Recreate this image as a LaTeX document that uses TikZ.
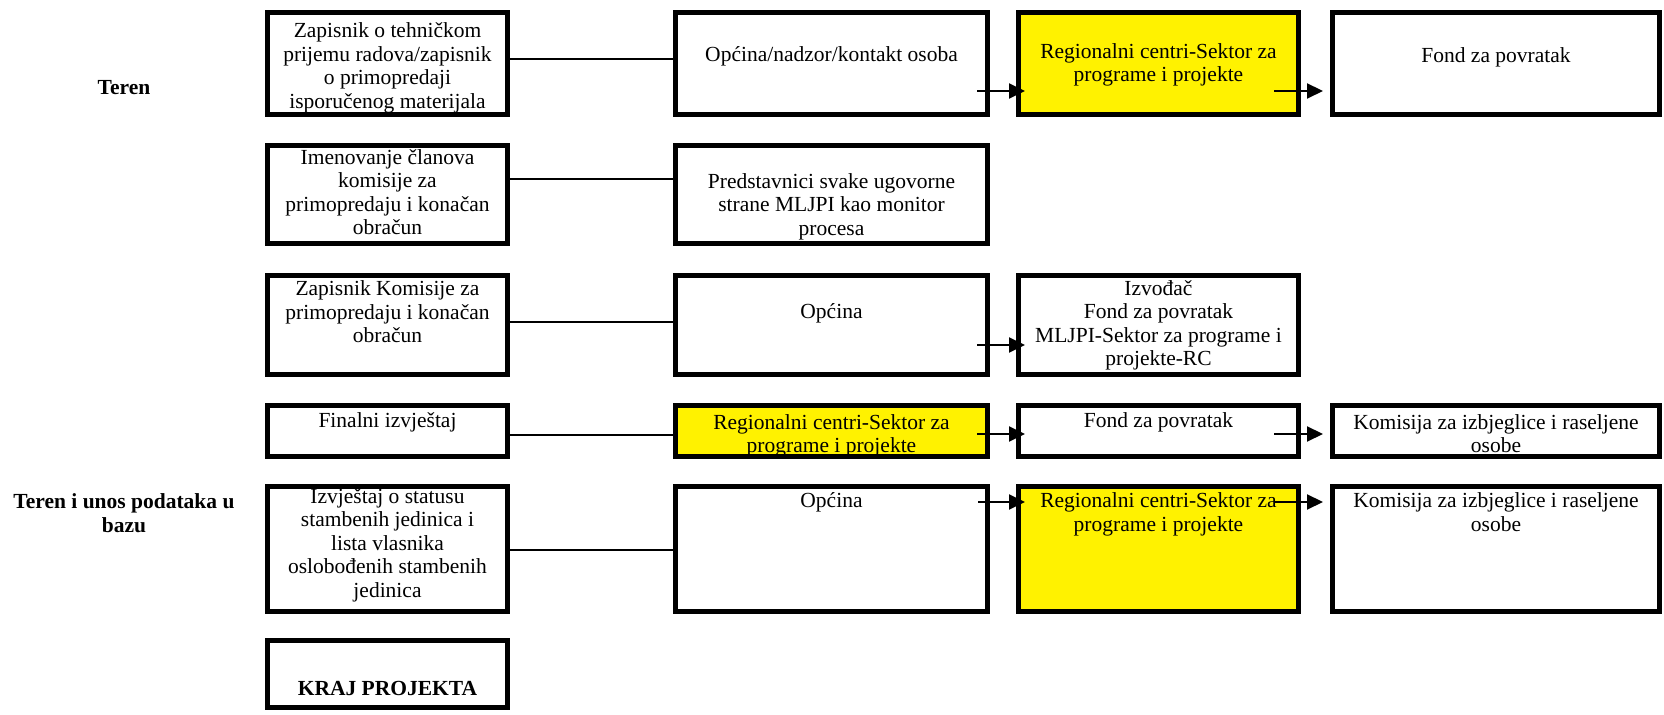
\documentclass[tikz,border=0pt]{standalone}
\usepackage{fontspec}
\setmainfont{Liberation Serif}
\usetikzlibrary{fit,calc,arrows.meta}

% framed box whose outer edge runs from (x1,y1) to (x2,y2)
\newcommand\mkbox[6]{%
  \node[box,#6,fit={(#2+2.5,#3+2.5) (#4-2.5,#5-2.5)}] (#1) {};}

\tikzset{
  box/.style={draw=black, line width=2.5pt, inner sep=0pt, fill=white},
  hl/.style={fill=yellow},
  plain/.style={},
  txt/.style={align=center, inner sep=0pt, anchor=north,
              font=\fontsize{10.75}{11.75}\selectfont},
  lbl/.style={txt, font=\fontsize{10.75}{11.75}\selectfont\bfseries},
  link/.style={line width=1pt},
  arr/.style={line width=1pt, -{Triangle[length=8pt,width=7.5pt]}},
}

\begin{document}
\begin{tikzpicture}[x=0.5pt,y=-0.5pt]
\useasboundingbox (0,0) rectangle (1664,715);

% row labels
\node[lbl] (lteren) at (124,78) {\strut Teren};
\node[lbl] (lbaza) at (124,492) {\strut Teren i unos podataka u\\bazu};

% boxes
\mkbox{r1c1}{265}{10}{510}{117}{plain}
\mkbox{r1c2}{673}{10}{990}{117}{plain}
\mkbox{r1c3}{1016}{10}{1301}{117}{hl}
\mkbox{r1c4}{1330}{10}{1662}{117}{plain}

\mkbox{r2c1}{265}{143}{510}{246}{plain}
\mkbox{r2c2}{673}{143}{990}{246}{plain}

\mkbox{r3c1}{265}{273}{510}{377}{plain}
\mkbox{r3c2}{673}{273}{990}{377}{plain}
\mkbox{r3c3}{1016}{273}{1301}{377}{plain}

\mkbox{r4c1}{265}{403}{510}{459}{plain}
\mkbox{r4c2}{673}{403}{990}{459}{hl}
\mkbox{r4c3}{1016}{403}{1301}{459}{plain}
\mkbox{r4c4}{1330}{403}{1662}{459}{plain}

\mkbox{r5c1}{265}{484}{510}{614}{plain}
\mkbox{r5c2}{673}{484}{990}{614}{plain}
\mkbox{r5c3}{1016}{484}{1301}{614}{hl}
\mkbox{r5c4}{1330}{484}{1662}{614}{plain}

\mkbox{r6c1}{265}{638}{510}{710}{plain}

% box texts
\node[txt] (t11) at (387.5,21) {\strut Zapisnik o tehničkom\\prijemu radova/zapisnik\\o primopredaji\\isporučenog materijala};
\node[txt] (t12) at (831.5,45) {\strut Općina/nadzor/kontakt osoba};
\node[txt] (t13) at (1158.5,41.5) {\strut Regionalni centri-Sektor za\\programe i projekte};
\node[txt] (t14) at (1496,45.5) {\strut Fond za povratak};

\node[txt] (t21) at (387.5,147.5) {\strut Imenovanje članova\\komisije za\\primopredaju i konačan\\obračun};
\node[txt] (t22) at (831.5,171.5) {\strut Predstavnici svake ugovorne\\strane MLJPI kao monitor\\procesa};

\node[txt] (t31) at (387.5,279) {\strut Zapisnik Komisije za\\primopredaju i konačan\\obračun};
\node[txt] (t32) at (831.5,302) {\strut Općina};
\node[txt] (t33) at (1158.5,278.5) {\strut Izvođač\\Fond za povratak\\MLJPI-Sektor za programe i\\projekte-RC};

\node[txt] (t41) at (387.5,411) {\strut Finalni izvještaj};
\node[txt] (t42) at (831.5,412.5) {\strut Regionalni centri-Sektor za\\programe i projekte};
\node[txt] (t43) at (1158.5,411) {\strut Fond za povratak};
\node[txt] (t44) at (1496,412.5) {\strut Komisija za izbjeglice i raseljene\\osobe};

\node[txt] (t51) at (387.5,486.5) {\strut Izvještaj o statusu\\stambenih jedinica i\\lista vlasnika\\oslobođenih stambenih\\jedinica};
\node[txt] (t52) at (831.5,491) {\strut Općina};
\node[txt] (t53) at (1158.5,491) {\strut Regionalni centri-Sektor za\\programe i projekte};
\node[txt] (t54) at (1496,491) {\strut Komisija za izbjeglice i raseljene\\osobe};

\node[lbl] (t61) at (387.5,679) {\strut KRAJ PROJEKTA};

% connector heights
\coordinate (y1) at (0,59);
\coordinate (y2) at (0,179);
\coordinate (y3) at (0,322);
\coordinate (y4) at (0,435);
\coordinate (y5) at (0,550);
\coordinate (a1) at (0,91);
\coordinate (a3) at (0,345);
\coordinate (a4) at (0,434);
\coordinate (a5) at (0,502);

% plain links between the first two columns
\draw[link] (r1c1.east |- y1) -- (r1c2.west |- y1);
\draw[link] (r2c1.east |- y2) -- (r2c2.west |- y2);
\draw[link] (r3c1.east |- y3) -- (r3c2.west |- y3);
\draw[link] (r4c1.east |- y4) -- (r4c2.west |- y4);
\draw[link] (r5c1.east |- y5) -- (r5c2.west |- y5);

% arrows
\draw[arr] ($(r1c2.east |- a1)+(-13,0)$) -- ($(r1c3.west |- a1)+(9,0)$);
\draw[arr] ($(r1c3.east |- a1)+(-27,0)$) -- ($(r1c4.west |- a1)+(-7,0)$);
\draw[arr] ($(r3c2.east |- a3)+(-13,0)$) -- ($(r3c3.west |- a3)+(9,0)$);
\draw[arr] ($(r4c2.east |- a4)+(-13,0)$) -- ($(r4c3.west |- a4)+(9,0)$);
\draw[arr] ($(r4c3.east |- a4)+(-27,0)$) -- ($(r4c4.west |- a4)+(-7,0)$);
\draw[arr] ($(r5c2.east |- a5)+(-12,0)$) -- ($(r5c3.west |- a5)+(9,0)$);
\draw[arr] ($(r5c3.east |- a5)+(-26,0)$) -- ($(r5c4.west |- a5)+(-7,0)$);
\end{tikzpicture}
\end{document}
